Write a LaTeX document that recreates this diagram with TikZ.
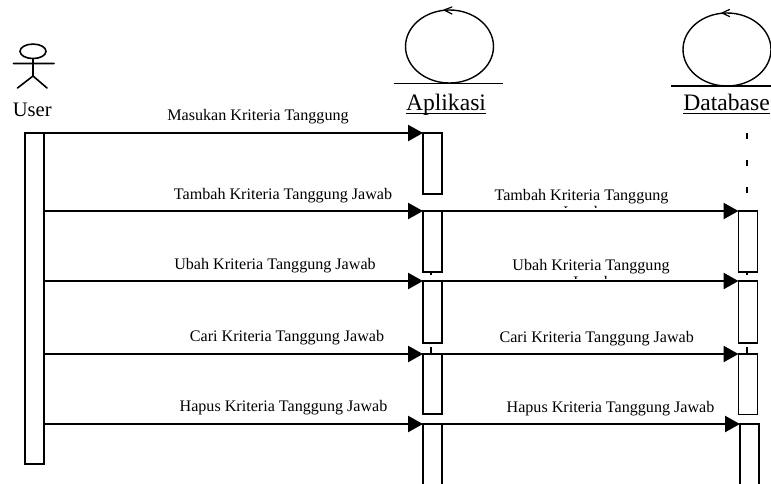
\documentclass[tikz,border=0pt]{standalone}
\usepackage{fontspec}
\setmainfont{Liberation Serif}
\usetikzlibrary{arrows.meta,shapes.geometric}
\tikzset{
  x=1pt,y=-1pt,
  bar/.style={draw,line width=1.8pt,fill=white,minimum width=19pt,inner sep=0pt,outer sep=0pt,anchor=north west},
  msg/.style={line width=2.4pt,-{Triangle[length=15pt,width=16pt]}},
  lbl/.style={font=\fontsize{16.1}{18}\selectfont,anchor=base,inner sep=0pt},
  big/.style={font=\fontsize{23.6}{26}\selectfont,anchor=base,inner sep=0pt},
  loop/.style={draw,ellipse,line width=1.4pt,inner sep=0pt,outer sep=0pt},
  limb/.style={line width=1.6pt,line cap=round},
  life/.style={line width=2pt},
  topline/.style={line width=1.4pt},
  openhead/.style={line width=1.2pt,line cap=round,line join=round},
  uline/.style={line width=1.2pt}
}
\begin{document}
\begin{tikzpicture}
\useasboundingbox (0,0) rectangle (771,483);
\clip (0,0) rectangle (771,483);
% lifeline fragments
\coordinate (ld1) at (747,133); \coordinate (ld2) at (747,139);
\coordinate (ld3) at (747,160); \coordinate (ld4) at (747,166);
\coordinate (ld5) at (747,187); \coordinate (ld6) at (747,193);
\draw[life] (ld1)--(ld2) (ld3)--(ld4) (ld5)--(ld6);
\coordinate (la1) at (431,272); \coordinate (la2) at (431,275);
\coordinate (la3) at (431,347); \coordinate (la4) at (431,354);
\coordinate (ld7) at (747,272); \coordinate (ld8) at (747,275);
\coordinate (ld9) at (747,347); \coordinate (ld10) at (747,354);
\draw[life] (la1)--(la2) (la3)--(la4) (ld7)--(ld8) (ld9)--(ld10);
% actor
\node[draw,ellipse,line width=1.6pt,minimum width=26pt,minimum height=14.5pt,inner sep=0pt,outer sep=0pt] (head) at (33,51.3) {};
\coordinate (armL) at (13.5,63.5); \coordinate (armR) at (54,63.5);
\coordinate (hip) at (33,76); \coordinate (legL) at (17.5,88); \coordinate (legR) at (47,88);
\draw[limb] (head.south)--(hip) (armL)--(armR) (legL)--(hip)--(legR);
\node[font=\fontsize{20.6}{24}\selectfont,anchor=base,inner sep=0pt] (user) at (32.3,116.7) {User};
% control objects
\node[loop,minimum width=88pt,minimum height=73pt] (appc) at (449.5,46.5) {};
\node[loop,minimum width=88pt,minimum height=73pt] (dbc) at (727,49.5) {};
\coordinate (al) at (393.5,83.5); \coordinate (ar) at (503,83.5);
\coordinate (dl) at (671,86); \coordinate (dr) at (771,86);
\draw[topline] (al)--(ar) (dl)--(dr);
\coordinate (aa1) at (452,7); \coordinate (aa2) at (444,10); \coordinate (aa3) at (452,14);
\coordinate (da1) at (729.5,9.5); \coordinate (da2) at (722,13); \coordinate (da3) at (729.5,16.5);
\draw[openhead] (aa1)--(aa2)--(aa3) (da1)--(da2)--(da3);
\node[big] (aplikasi) at (446,110) {Aplikasi};
\node[big] (database) at (726.5,110) {Database};
\coordinate (au) at (0,113.7);
\draw[uline] (aplikasi.west |- au) -- (aplikasi.east |- au);
\draw[uline] (database.west |- au) -- (database.east |- au);
% activation bars
\node[bar,minimum height=331pt] (u) at (25,133) {};
\node[bar,minimum height=61pt] (a1) at (423,133) {};
\node[bar,minimum height=61pt] (a2) at (423,211) {};
\node[bar,minimum height=62pt] (a3) at (423,281) {};
\node[bar,minimum height=60pt] (a4) at (423,354) {};
\node[bar,minimum height=80pt] (a5) at (423,424) {};
\node[bar,minimum height=61pt] (d2) at (738.5,211) {};
\node[bar,minimum height=62pt] (d3) at (738.5,281) {};
\node[bar,minimum height=60.5pt] (d4) at (738.5,354) {};
\node[bar,minimum height=80pt] (d5) at (740,424) {};
% messages
\draw[msg] (u.east |- a1.north west) -- (a1.north west);
\draw[msg] (u.east |- a2.north west) -- (a2.north west);
\draw[msg] (u.east |- a3.north west) -- (a3.north west);
\draw[msg] (u.east |- a4.north west) -- (a4.north west);
\draw[msg] (u.east |- a5.north west) -- (a5.north west);
\draw[msg] (a2.north east) -- (d2.north west);
\draw[msg] (a3.north east) -- (d3.north west);
\draw[msg] (a4.north east) -- (d4.north west);
\draw[msg] (a5.north east) -- (d5.north west);
% labels
\node[lbl] (m1) at (258,120.7) {Masukan Kriteria Tanggung};
\node[lbl] (m2) at (283,199) {Tambah Kriteria Tanggung Jawab};
\node[lbl] (m3) at (275,269) {Ubah Kriteria Tanggung Jawab};
\node[lbl] (m4) at (287,341.5) {Cari Kriteria Tanggung Jawab};
\node[lbl] (m5) at (283.5,411.5) {Hapus Kriteria Tanggung Jawab};
\node[lbl] (n2) at (581.5,200) {Tambah Kriteria Tanggung};
\node[lbl] (n3) at (591,270) {Ubah Kriteria Tanggung};
\node[lbl] (n4) at (596.7,342) {Cari Kriteria Tanggung Jawab};
\node[lbl] (n5) at (610.5,412) {Hapus Kriteria Tanggung Jawab};
% second lines, cut off by the arrows
\begin{scope}
\clip (540,205) rectangle (620,207.6);
\node[lbl] (j2) at (582,217) {Jawab};
\end{scope}
\begin{scope}
\clip (550,275.5) rectangle (630,278);
\node[lbl] (j3) at (592,287.5) {Jawab};
\end{scope}
\end{tikzpicture}
\end{document}
